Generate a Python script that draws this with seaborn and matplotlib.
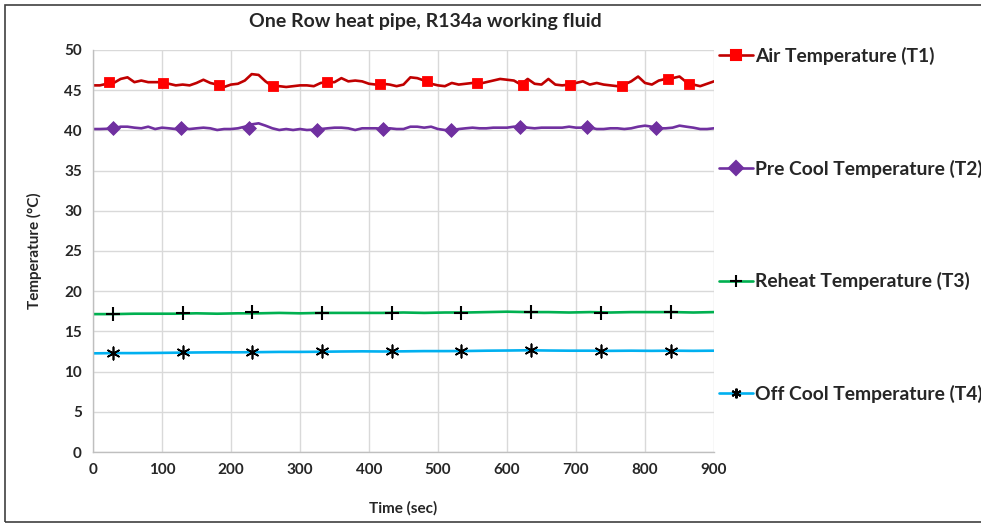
import numpy as np
import pandas as pd
import matplotlib
matplotlib.use("Agg")
import matplotlib.pyplot as plt
import seaborn as sns
from matplotlib.lines import Line2D
from matplotlib.patches import Rectangle

# ---------------- data ----------------
title = "One Row heat pipe, R134a working fluid"
xlabel = "Time (sec)"
ylabel = "Temperature (°C)"
labels = ["Air Temperature (T1)", "Pre Cool Temperature (T2)",
          "Reheat Temperature (T3)", "Off Cool Temperature (T4)"]

t_fine = list(range(0, 901, 10))
t1 = [45.6, 45.6, 45.8, 45.9, 46.4, 46.6, 46.0, 46.2, 46.0, 46.0,
      46.0, 45.8, 45.6, 45.7, 45.6, 45.9, 46.3, 45.9, 45.7, 45.4,
      45.7, 45.8, 46.2, 47.0, 46.9, 46.1, 45.5, 45.5, 45.4, 45.5,
      45.6, 45.6, 45.5, 45.9, 46.0, 46.0, 46.5, 46.1, 46.2, 46.1,
      45.8, 45.7, 45.8, 45.7, 45.5, 45.7, 46.6, 46.5, 46.2, 45.8,
      45.6, 45.5, 45.9, 45.7, 45.8, 45.9, 45.8, 46.0, 46.2, 46.4,
      46.3, 46.2, 45.7, 46.4, 45.8, 45.7, 46.4, 45.7, 45.6, 45.7,
      45.9, 46.1, 45.7, 45.9, 45.7, 45.6, 45.5, 45.7, 46.1, 46.7,
      45.9, 45.7, 46.2, 46.4, 46.5, 46.7, 46.0, 45.7, 45.5, 45.8, 46.1]
t2 = [40.17, 40.17, 40.20, 40.26, 40.46, 40.46, 40.34, 40.26, 40.46, 40.17,
      40.34, 40.26, 40.17, 40.26, 40.17, 40.26, 40.34, 40.26, 40.05, 40.17,
      40.17, 40.26, 40.46, 40.75, 40.88, 40.59, 40.26, 40.05, 40.17, 40.05,
      40.17, 40.05, 40.10, 40.17, 40.26, 40.34, 40.34, 40.26, 40.05, 40.26,
      40.26, 40.26, 40.20, 40.26, 40.17, 40.17, 40.46, 40.46, 40.34, 40.46,
      40.17, 40.05, 40.05, 40.17, 40.26, 40.34, 40.26, 40.26, 40.34, 40.34,
      40.34, 40.46, 40.46, 40.34, 40.26, 40.34, 40.34, 40.34, 40.34, 40.46,
      40.34, 40.34, 40.36, 40.17, 40.17, 40.26, 40.26, 40.17, 40.26, 40.46,
      40.59, 40.46, 40.26, 40.26, 40.34, 40.59, 40.46, 40.34, 40.17, 40.17, 40.26]

t_coarse = list(range(0, 901, 30))
t3 = [17.15, 17.15, 17.20, 17.20, 17.20, 17.25, 17.20, 17.25, 17.25, 17.30,
      17.25, 17.30, 17.30, 17.30, 17.30, 17.35, 17.30, 17.35, 17.35, 17.40,
      17.45, 17.40, 17.40, 17.35, 17.40, 17.35, 17.40, 17.40, 17.40, 17.35, 17.40]
t4 = [12.27, 12.30, 12.30, 12.32, 12.35, 12.38, 12.40, 12.40, 12.42, 12.45,
      12.45, 12.47, 12.50, 12.52, 12.50, 12.52, 12.55, 12.55, 12.56, 12.60,
      12.62, 12.65, 12.62, 12.60, 12.60, 12.58, 12.60, 12.58, 12.60, 12.58, 12.60]

# marker positions (as drawn in the source chart)
m1_t = [23, 101, 183, 261, 339, 416, 484, 556, 623, 692, 766, 833, 864]
m1_v = [46.0, 45.9, 45.6, 45.5, 46.0, 45.8, 46.1, 45.9, 45.7, 45.7, 45.5, 46.4, 45.8]
m2_t = [29, 127, 226, 324, 421, 519, 619, 716, 816]
m2_v = [40.26, 40.26, 40.26, 40.05, 40.17, 40.05, 40.46, 40.38, 40.34]
m3_t = [29, 130, 230, 332, 433, 533, 635, 736, 837]
m3_v = [17.16, 17.29, 17.41, 17.29, 17.29, 17.29, 17.41, 17.29, 17.41]
m4_t = [29, 130, 230, 332, 433, 533, 635, 736, 837]
m4_v = [12.31, 12.44, 12.44, 12.56, 12.56, 12.56, 12.69, 12.56, 12.56]

x_ticks = list(range(0, 901, 100))
y_ticks = list(range(0, 51, 5))

# ---------------- style ----------------
sns.set_style("white")
plt.rcParams['font.family'] = ['Lato', 'DejaVu Sans']
plt.rcParams['font.weight'] = 'bold'

line_colors = ["#C00000", "#7030A0", "#00B050", "#00B0F0"]
mk_colors = ["#FF0000", "#7030A0", "#000000", "#000000"]
markers = ["s", "D", "+", (6, 2, 0)]

fig = plt.figure(figsize=(9.81, 5.25), dpi=100)
ax = fig.add_axes([93/981, 1 - 452/525, 621/981, 402/525])

fine = pd.DataFrame({"t": t_fine, "T1": t1, "T2": t2})
coarse = pd.DataFrame({"t": t_coarse, "T3": t3, "T4": t4})

sns.lineplot(data=fine, x="t", y="T1", ax=ax, color=line_colors[0], lw=1.9)
sns.lineplot(data=fine, x="t", y="T2", ax=ax, color=line_colors[1], lw=1.9)
sns.lineplot(data=coarse, x="t", y="T3", ax=ax, color=line_colors[2], lw=1.9)
sns.lineplot(data=coarse, x="t", y="T4", ax=ax, color=line_colors[3], lw=1.9)

sns.scatterplot(x=m1_t, y=m1_v, ax=ax, marker="s", color=mk_colors[0], s=55, edgecolor=mk_colors[0], zorder=5)
sns.scatterplot(x=m2_t, y=m2_v, ax=ax, marker="D", color=mk_colors[1], s=50, edgecolor=mk_colors[1], zorder=5)
sns.scatterplot(x=m3_t, y=m3_v, ax=ax, marker="+", color="black", s=90, linewidth=1.5, zorder=5)
sns.scatterplot(x=m4_t, y=m4_v, ax=ax, marker=(6, 2, 0), color="black", s=80, linewidth=1.2, zorder=5)

ax.set_xlim(0, 900)
ax.set_ylim(0, 50)
ax.set_xticks(x_ticks)
ax.set_yticks(y_ticks)
ax.grid(True, color="#D9D9D9", lw=1)
ax.set_axisbelow(True)
for s in ["top", "right"]:
    ax.spines[s].set_visible(False)
for s in ["left", "bottom"]:
    ax.spines[s].set_color("#BFBFBF")
    ax.spines[s].set_linewidth(1)
ax.tick_params(axis="both", length=0, labelsize=11, pad=8)
for lab in ax.get_xticklabels() + ax.get_yticklabels():
    lab.set_fontweight("bold")

ax.set_xlabel(xlabel, fontsize=11, fontweight="bold", labelpad=17)
ax.set_ylabel(ylabel, fontsize=11, fontweight="bold", labelpad=16)
fig.text(425/981, 1 - 22/525, title, ha="center", va="center", fontsize=14, fontweight="bold")

handles = []
for lc, mc, mk in zip(line_colors, mk_colors, markers):
    handles.append(Line2D([0], [0], color=lc, lw=1.9, marker=mk, markersize=7 if mk != "+" else 9,
                          markerfacecolor=mc, markeredgecolor=mc, markeredgewidth=1.5))
fig.legend(handles, labels, loc="upper left", bbox_to_anchor=(719/981, 1 - 47/525),
           frameon=False, fontsize=13.9, handlelength=1.75, handletextpad=0.12,
           labelspacing=4.9, borderaxespad=0, borderpad=0)

fig.patches.append(Rectangle((5/981, 3/525), 1.2, 1 - 8/525, transform=fig.transFigure,
                             fill=False, edgecolor="#404040", lw=1.2))

fig.savefig("out.png", dpi=100)
